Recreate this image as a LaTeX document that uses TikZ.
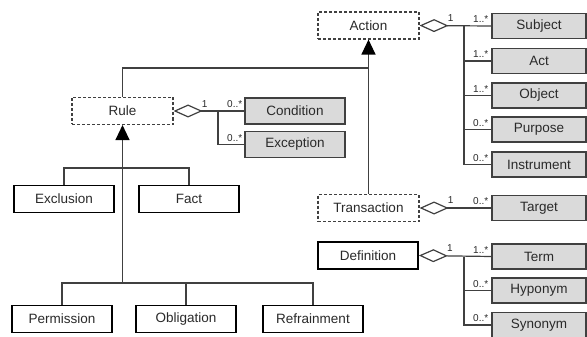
\documentclass[tikz,border=0pt]{standalone}
\usepackage{fontspec}
\setmainfont{Liberation Sans}
\usetikzlibrary{arrows.meta,calc}
\definecolor{linec}{HTML}{404040}
\definecolor{boxfill}{HTML}{DADADA}
\definecolor{txt}{HTML}{2A2A2A}
\tikzset{
  abst/.style={draw=linec, dash pattern=on 3pt off 2pt, line width=1.1pt, fill=white,
    minimum width=101pt, minimum height=27pt, inner sep=0pt, text=txt, font=\fontsize{13.5}{16}\selectfont},
  conc/.style={draw=black, line width=1.7pt, fill=white,
    minimum width=100pt, minimum height=27pt, inner sep=0pt, text=txt, font=\fontsize{13.5}{16}\selectfont},
  attr/.style={draw=linec, line width=1.1pt, fill=boxfill,
    minimum width=94pt, minimum height=25pt, inner sep=0pt, text=txt, font=\fontsize{13.5}{16}\selectfont},
  attrw/.style={attr, minimum width=100pt, minimum height=26pt},
  conn/.style={draw=linec, line width=1.2pt},
  agg/.style={conn, {Diamond[open, length=29pt, width=13pt, fill=white]}-},
  inh/.style={conn, -{Triangle[length=15pt, width=14pt, color=black, fill=black]}},
  lbl/.style={inner sep=0pt, text=txt, font=\fontsize{10}{11}\selectfont},
}
\begin{document}
\begin{tikzpicture}[x=1pt, y=-1pt]
\useasboundingbox (0,0) rectangle (587,337);
% nodes
\node[abst] (action) at (368.5,25.5) {Action};
\node[attr] (subject) at (539,26) {Subject};
\node[attr] (act) at (539,61) {Act};
\node[attr] (object) at (539,95.5) {Object};
\node[attr] (purpose) at (539,129.5) {Purpose};
\node[attr] (instrument) at (539,164.5) {Instrument};

\node[abst] (rule) at (122.5,111) {Rule};
\node[attrw] (condition) at (295,111) {Condition};
\node[attrw] (exception) at (295,144.5) {Exception};

\node[conc] (exclusion) at (64,199) {Exclusion};
\node[conc] (fact) at (189,199) {Fact};
\node[conc] (permission) at (62,319) {Permission};
\node[conc] (obligation) at (186,319) {Obligation};
\node[conc] (refrainment) at (313,319) {Refrainment};

\node[abst] (transaction) at (368.5,208) {Transaction};
\node[attr] (target) at (539,208) {Target};

\node[conc] (definition) at (368,255.5) {Definition};
\node[attr] (term) at (539,256.5) {Term};
\node[attr] (hyponym) at (539,290.5) {Hyponym};
\node[attr] (synonym) at (539,325) {Synonym};

% junction coordinates
\coordinate (ja) at (464,26);
\coordinate (jr) at (218,111);
\coordinate (jd) at (464,256.5);
\coordinate (jtop) at (368.5,68);
\coordinate (jef) at (122.5,168);
\coordinate (jpor) at (122.5,283);

% Action aggregation
\draw[agg] (action.east) -- (subject.west);
\draw[conn] (ja) |- (act.west);
\draw[conn] (ja) |- (object.west);
\draw[conn] (ja) |- (purpose.west);
\draw[conn] (ja) |- (instrument.west);

% Rule aggregation
\draw[agg] (rule.east) -- (condition.west);
\draw[conn] (jr) |- (exception.west);

% Transaction aggregation
\draw[agg] (transaction.east) -- (target.west);

% Definition aggregation
\draw[agg] (definition.east) -- (term.west);
\draw[conn] (jd) |- (hyponym.west);
\draw[conn] (jd) |- (synonym.west);

% Inheritance to Action
\draw[inh] (transaction.north) -- (action.south);
\draw[conn] (rule.north) |- (jtop);

% Inheritance to Rule
\draw[inh] (jpor) -- (rule.south);
\draw[conn] (exclusion.north) |- (jef) -| (fact.north);
\draw[conn] (permission.north) |- (jpor) -| (refrainment.north);
\draw[conn] (obligation.north) -- (obligation.north |- jpor);

% multiplicities
\node[lbl, anchor=south west] at ([xshift=28pt,yshift=4pt]action.east) {1};
\node[lbl, anchor=south east] at ([xshift=-3pt,yshift=3pt]subject.west) {1..*};
\node[lbl, anchor=south east] at ([xshift=-3pt,yshift=3pt]act.west) {1..*};
\node[lbl, anchor=south east] at ([xshift=-3pt,yshift=3pt]object.west) {1..*};
\node[lbl, anchor=south east] at ([xshift=-3pt,yshift=3pt]purpose.west) {0..*};
\node[lbl, anchor=south east] at ([xshift=-3pt,yshift=3pt]instrument.west) {0..*};

\node[lbl, anchor=south west] at ([xshift=28pt,yshift=3pt]rule.east) {1};
\node[lbl, anchor=south east] at ([xshift=-2pt,yshift=3pt]condition.west) {0..*};
\node[lbl, anchor=south east] at ([xshift=-2pt,yshift=3pt]exception.west) {0..*};

\node[lbl, anchor=south west] at ([xshift=28pt,yshift=4pt]transaction.east) {1};
\node[lbl, anchor=south east] at ([xshift=-3pt,yshift=3pt]target.west) {0..*};

\node[lbl, anchor=south west] at ([xshift=28pt,yshift=4pt]definition.east) {1};
\node[lbl, anchor=south east] at ([xshift=-3pt,yshift=3pt]term.west) {1..*};
\node[lbl, anchor=south east] at ([xshift=-3pt,yshift=3pt]hyponym.west) {0..*};
\node[lbl, anchor=south east] at ([xshift=-3pt,yshift=3pt]synonym.west) {0..*};
\end{tikzpicture}
\end{document}
